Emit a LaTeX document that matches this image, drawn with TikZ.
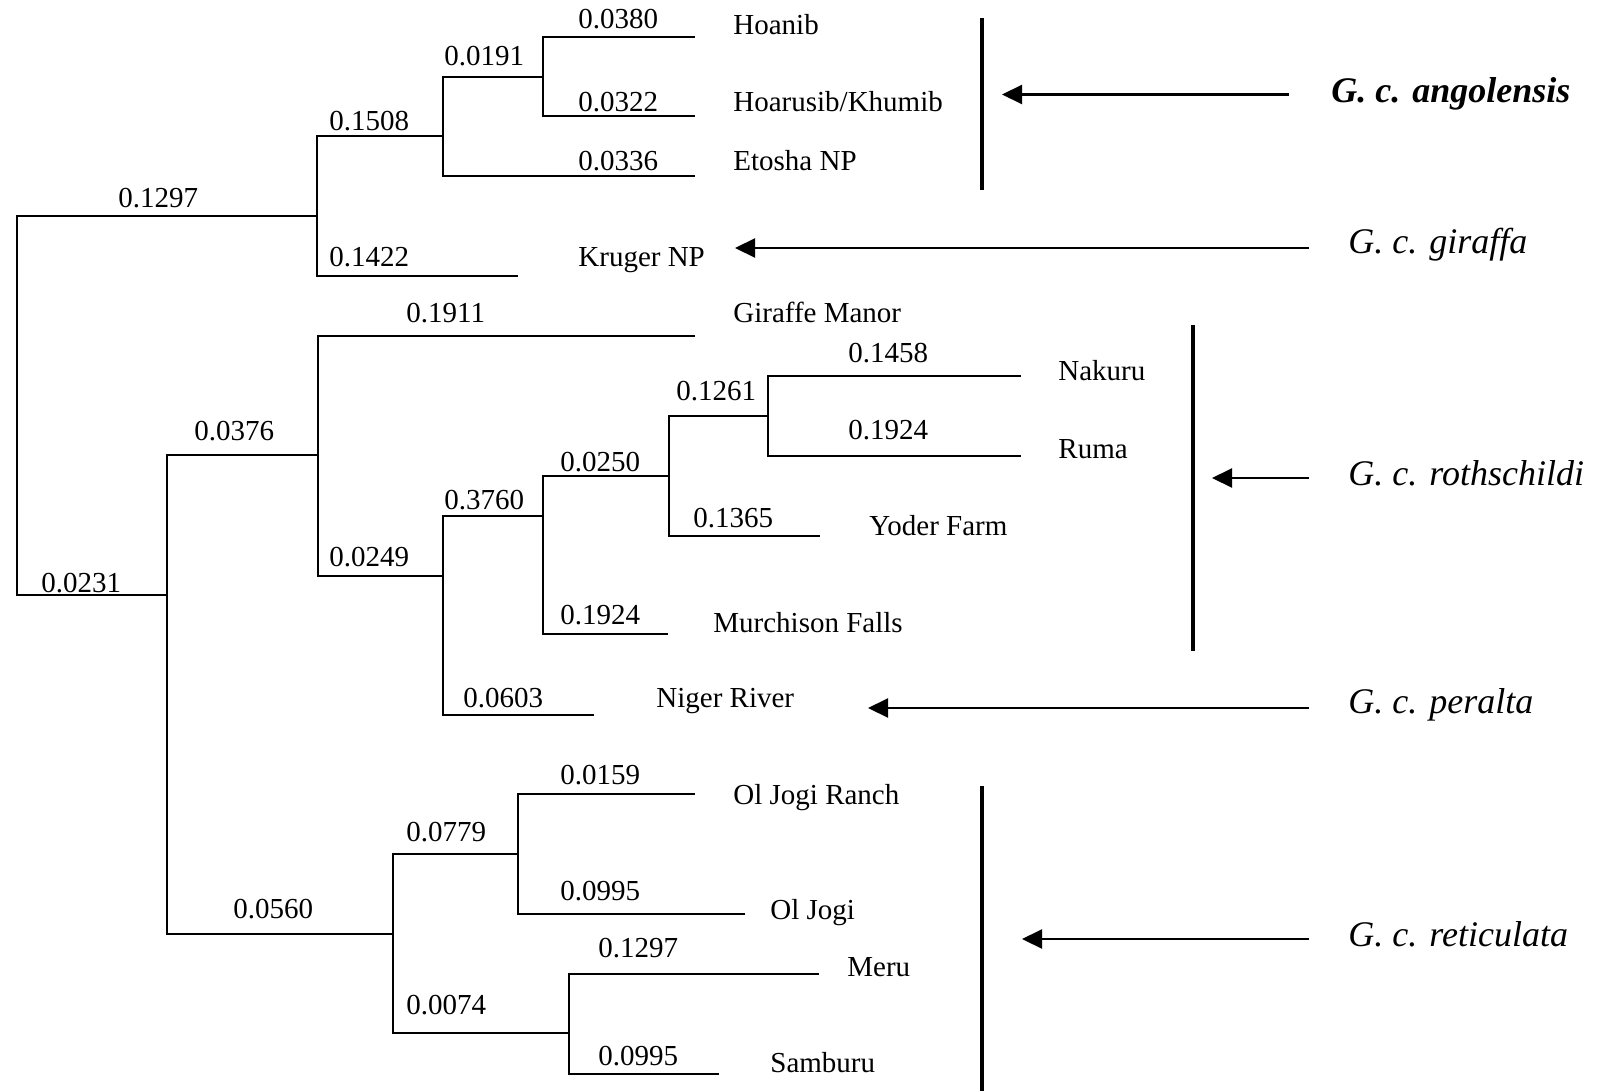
\documentclass[tikz,border=0pt]{standalone}
\usepackage{fontspec}
\setmainfont{Liberation Serif}
\usetikzlibrary{arrows.meta}
\begin{document}
\begin{tikzpicture}[x=0.5pt,y=-0.5pt,
  br/.style={line width=1pt},
  bar/.style={line width=2.2pt},
  ptr/.style={line width=1.1pt,-{Triangle[length=10pt,width=9.5pt]}},
  num/.style={anchor=base west,inner sep=0pt,font=\fontsize{14.5}{16}\selectfont},
  leaf/.style={anchor=base west,inner sep=0pt,font=\fontsize{14.5}{16}\selectfont},
  ssp/.style={anchor=base west,inner sep=0pt,font=\fontsize{18}{20}\selectfont\itshape}]
\useasboundingbox (0,0) rectangle (1599,1091);
% internal nodes (x of split, y of incoming branch)
\coordinate (R) at (17,405);
\coordinate (A) at (317,216);
\coordinate (B) at (443,136);
\coordinate (C) at (543,77);
\coordinate (D) at (167,595);
\coordinate (E) at (318,455);
\coordinate (F) at (443,576);
\coordinate (G) at (543,516);
\coordinate (H) at (669,476);
\coordinate (I) at (768,416);
\coordinate (J) at (393,934);
\coordinate (K) at (518,854);
\coordinate (L) at (569,1033);
% branch tips
\coordinate (tHoanib) at (695,37);
\coordinate (tHoarusib) at (695,116);
\coordinate (tEtosha) at (695,176);
\coordinate (tKruger) at (518,276);
\coordinate (tGM) at (695,336);
\coordinate (tNakuru) at (1021,376);
\coordinate (tRuma) at (1021,456);
\coordinate (tYoder) at (820,536);
\coordinate (tMurch) at (668,634);
\coordinate (tNiger) at (594,715);
\coordinate (tOJR) at (695,794);
\coordinate (tOJ) at (745,914);
\coordinate (tMeru) at (819,974);
\coordinate (tSamburu) at (719,1074);
% tree
\draw[br] (A) -| (R) |- (D);
\draw[br] (B) -| (A) |- (tKruger);
\draw[br] (C) -| (B) |- (tEtosha);
\draw[br] (tHoanib) -| (C) |- (tHoarusib);
\draw[br] (E) -| (D) |- (J);
\draw[br] (tGM) -| (E) |- (F);
\draw[br] (G) -| (F) |- (tNiger);
\draw[br] (H) -| (G) |- (tMurch);
\draw[br] (I) -| (H) |- (tYoder);
\draw[br] (tNakuru) -| (I) |- (tRuma);
\draw[br] (K) -| (J) |- (L);
\draw[br] (tOJR) -| (K) |- (tOJ);
\draw[br] (tMeru) -| (L) |- (tSamburu);
% branch lengths
\node[num] (n1) at (118,208) {0.1297};
\node[num] (n2) at (329,131) {0.1508};
\node[num] (n3) at (444,66) {0.0191};
\node[num] (n4) at (578,29) {0.0380};
\node[num] (n5) at (578,112) {0.0322};
\node[num] (n6) at (578,171) {0.0336};
\node[num] (n7) at (329,266) {0.1422};
\node[num] (n8) at (406,322) {0.1911};
\node[num] (n9) at (194,440) {0.0376};
\node[num] (n10) at (329,566) {0.0249};
\node[num] (n11) at (444,509) {0.3760};
\node[num] (n12) at (560,471) {0.0250};
\node[num] (n13) at (676,400) {0.1261};
\node[num] (n14) at (848,362) {0.1458};
\node[num] (n15) at (848,439) {0.1924};
\node[num] (n16) at (693,527) {0.1365};
\node[num] (n17) at (560,624) {0.1924};
\node[num] (n18) at (463,707) {0.0603};
\node[num] (n19) at (41,592) {0.0231};
\node[num] (n20) at (233,918) {0.0560};
\node[num] (n21) at (406,841) {0.0779};
\node[num] (n22) at (560,784) {0.0159};
\node[num] (n23) at (560,900) {0.0995};
\node[num] (n24) at (598,957) {0.1297};
\node[num] (n25) at (406,1014) {0.0074};
\node[num] (n26) at (598,1065) {0.0995};
% leaf names
\node[leaf] (lHoanib) at (733,35) {Hoanib};
\node[leaf] (lHoarusib) at (733,112) {Hoarusib/Khumib};
\node[leaf] (lEtosha) at (733,171) {Etosha NP};
\node[leaf] (lKruger) at (578,266) {Kruger NP};
\node[leaf] (lGM) at (733,322) {Giraffe Manor};
\node[leaf] (lNakuru) at (1058,380) {Nakuru};
\node[leaf] (lRuma) at (1058,458) {Ruma};
\node[leaf] (lYoder) at (869,535) {Yoder Farm};
\node[leaf] (lMurch) at (713,632) {Murchison Falls};
\node[leaf] (lNiger) at (656,707) {Niger River};
\node[leaf] (lOJR) at (733,804) {Ol Jogi Ranch};
\node[leaf] (lOJ) at (770,919) {Ol Jogi};
\node[leaf] (lMeru) at (847,976) {Meru};
\node[leaf] (lSamburu) at (770,1072) {Samburu};
% group bars
\coordinate (b1t) at (982,18);
\coordinate (b1b) at (982,190);
\coordinate (b2t) at (1193,325);
\coordinate (b2b) at (1193,651);
\coordinate (b3t) at (982,786);
\coordinate (b3b) at (982,1091);
\draw[bar] (b1t) -- (b1b);
\draw[bar] (b2t) -- (b2b);
\draw[bar] (b3t) -- (b3b);
% subspecies labels
\node[ssp,font=\fontsize{18}{20}\selectfont\bfseries\itshape] (sAng) at (1331,103) {G. c. angolensis};
\node[ssp] (sGir) at (1348,254) {G. c. giraffa};
\node[ssp] (sRot) at (1348,485) {G. c. rothschildi};
\node[ssp] (sPer) at (1348,713) {G. c. peralta};
\node[ssp] (sRet) at (1348,946) {G. c. reticulata};
% pointers
\coordinate (a1s) at (1289,94.5);
\coordinate (a1e) at (1002,94.5);
\coordinate (a2s) at (1309,248);
\coordinate (a2e) at (735,248);
\coordinate (a3s) at (1309,478);
\coordinate (a3e) at (1212,478);
\coordinate (a4s) at (1309,708);
\coordinate (a4e) at (868,708);
\coordinate (a5s) at (1309,939);
\coordinate (a5e) at (1022,939);
\draw[ptr] (a1s) -- (a1e);
\draw[ptr] (a2s) -- (a2e);
\draw[ptr] (a3s) -- (a3e);
\draw[ptr] (a4s) -- (a4e);
\draw[ptr] (a5s) -- (a5e);
\end{tikzpicture}
\end{document}
